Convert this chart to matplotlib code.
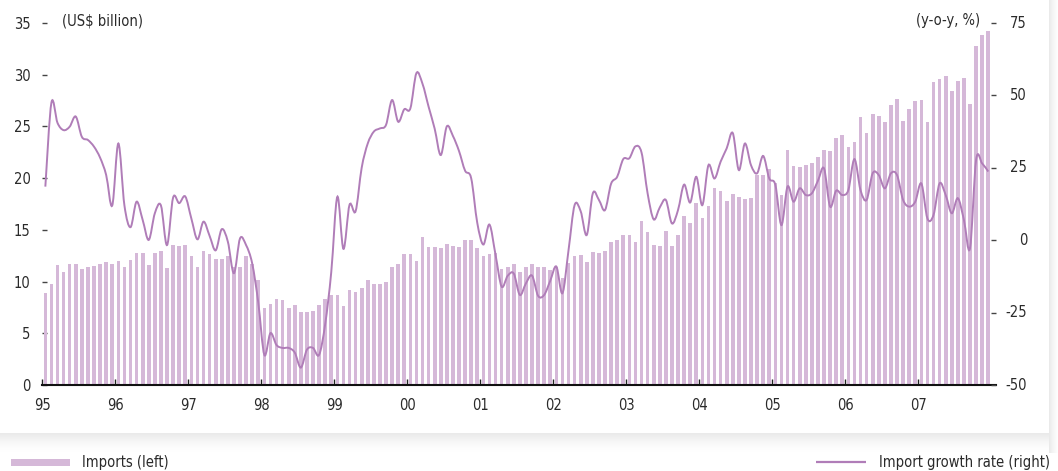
import numpy as np
import matplotlib
matplotlib.use("Agg")
import matplotlib.pyplot as plt
import matplotlib.transforms as mtransforms
from matplotlib.path import Path
from matplotlib.patches import PathPatch, Rectangle
from matplotlib import font_manager as fm
from matplotlib.ticker import FixedLocator

# ---------------- data ----------------
year_labels = ["95", "96", "97", "98", "99", "00", "01", "02", "03", "04", "05", "06", "07"]

imports_1995 = [8.9, 9.8, 11.6, 10.9, 11.7, 11.7, 11.2, 11.4, 11.5, 11.7, 11.9, 11.7]
imports_1996 = [12.0, 11.4, 12.1, 12.8, 12.8, 11.6, 12.8, 13.0, 11.3, 13.5, 13.4, 13.5]
imports_1997 = [12.5, 11.4, 13.0, 12.7, 12.2, 12.2, 12.5, 11.4, 11.4, 12.5, 11.7, 10.2]
imports_1998 = [7.4, 7.8, 8.3, 8.2, 7.4, 7.7, 7.1, 7.1, 7.2, 7.7, 8.3, 8.7]
imports_1999 = [8.7, 7.6, 9.2, 9.0, 9.4, 10.2, 9.8, 9.8, 10.0, 11.4, 11.7, 12.7]
imports_2000 = [12.7, 12.0, 14.3, 13.3, 13.3, 13.2, 13.6, 13.4, 13.3, 14.0, 14.0, 13.2]
imports_2001 = [12.5, 12.7, 12.8, 11.2, 11.4, 11.7, 10.9, 11.4, 11.7, 11.4, 11.4, 11.1]
imports_2002 = [11.4, 10.3, 11.8, 12.5, 12.6, 11.9, 12.9, 12.8, 13.0, 13.8, 14.0, 14.5]
imports_2003 = [14.5, 13.8, 15.9, 14.8, 13.5, 13.4, 14.9, 13.4, 14.5, 16.3, 15.7, 17.6]
imports_2004 = [16.1, 17.3, 19.0, 18.8, 17.8, 18.5, 18.2, 18.0, 18.1, 20.3, 20.3, 20.9]
imports_2005 = [19.5, 18.4, 22.7, 21.2, 21.1, 21.3, 21.5, 22.0, 22.7, 22.6, 23.9, 24.2]
imports_2006 = [23.0, 23.5, 25.9, 24.4, 26.2, 26.0, 25.4, 27.1, 27.7, 25.5, 26.7, 27.5]
imports_2007 = [27.6, 25.4, 29.3, 29.6, 29.9, 28.4, 29.4, 29.7, 27.2, 32.8, 33.8, 34.2]

growth_1995 = [18.5, 47.5, 40.5, 38.0, 39.2, 42.7, 35.7, 34.6, 32.3, 28.5, 22.5, 12.0]
growth_1996 = [33.4, 12.0, 4.5, 13.3, 7.0, 0.1, 9.3, 12.0, -1.7, 14.7, 12.8, 15.1]
growth_1997 = [7.5, 0.3, 6.4, 1.5, -3.5, 3.8, -0.5, -11.4, 0.6, -1.7, -8.0, -21.5]
growth_1998 = [-39.6, -32.1, -36.2, -37.2, -37.2, -38.8, -44.0, -37.8, -37.2, -39.6, -29.0, -11.0]
growth_1999 = [15.0, -3.0, 12.2, 10.0, 25.0, 33.4, 37.5, 38.6, 39.8, 48.4, 40.9, 45.2]
growth_2000 = [45.5, 57.7, 54.0, 46.1, 38.5, 29.4, 39.3, 36.0, 30.8, 24.0, 21.4, 6.0]
growth_2001 = [-1.5, 5.4, -5.0, -16.0, -12.3, -11.5, -18.9, -14.9, -12.2, -19.2, -18.9, -14.0]
growth_2002 = [-9.1, -18.3, -3.5, 12.1, 10.0, 1.8, 16.2, 13.9, 10.4, 19.5, 21.9, 28.0]
growth_2003 = [28.3, 32.4, 30.3, 16.2, 7.2, 11.3, 13.9, 5.8, 10.4, 19.2, 13.0, 21.9]
growth_2004 = [12.1, 25.9, 21.3, 27.1, 31.7, 37.0, 24.2, 33.4, 25.9, 23.1, 29.1, 21.3]
growth_2005 = [19.1, 5.2, 18.5, 13.3, 17.9, 15.6, 16.2, 20.5, 24.8, 11.6, 17.1, 15.6]
growth_2006 = [17.3, 28.0, 17.3, 13.9, 23.1, 22.5, 17.9, 23.1, 22.5, 13.9, 11.6, 13.3]
growth_2007 = [19.6, 7.5, 8.7, 19.6, 15.6, 9.3, 14.5, 7.0, -2.8, 27.7, 26.5, 23.7]

left_ticks = [0, 5, 10, 15, 20, 25, 30, 35]
right_ticks = [-50, -25, 0, 25, 50, 75]
right_tick_labels = ["-50", "-25", "0", "25", "50", "75"]

imports = np.array(imports_1995 + imports_1996 + imports_1997 + imports_1998 + imports_1999
                   + imports_2000 + imports_2001 + imports_2002 + imports_2003 + imports_2004
                   + imports_2005 + imports_2006 + imports_2007)
growth = np.array(growth_1995 + growth_1996 + growth_1997 + growth_1998 + growth_1999
                  + growth_2000 + growth_2001 + growth_2002 + growth_2003 + growth_2004
                  + growth_2005 + growth_2006 + growth_2007)
months = np.arange(len(imports))

# ---------------- style ----------------
BAR_C = "#d5b8d8"
LINE_C = "#b07db8"
TXT_C = "#2a2a2a"

names = {f.name for f in fm.fontManager.ttflist}
cond_dejavu = any(f.name == "DejaVu Sans" and "condensed" in str(f.stretch) for f in fm.fontManager.ttflist)
if "Liberation Sans Narrow" in names:
    FAMILY, STRETCH, FS = "Liberation Sans Narrow", "normal", 11.8
elif cond_dejavu:
    FAMILY, STRETCH, FS = "DejaVu Sans", "condensed", 10.5
else:
    FAMILY, STRETCH, FS = "Roboto", "normal", 10.5
plt.rcParams["font.family"] = [FAMILY, "DejaVu Sans"]
plt.rcParams["font.stretch"] = STRETCH
plt.rcParams["axes.unicode_minus"] = False

W, H = 1058, 471
fig = plt.figure(figsize=(W / 100, H / 100), dpi=100)
fig.patch.set_facecolor("white")

# background / card shadow
bg = fig.add_axes([0, 0, 1, 1], zorder=-10)
bg.set_xlim(0, W)
bg.set_ylim(H, 0)
bg.axis("off")
n = 60
a_v = np.linspace(0.55, 0.0, n) ** 1.6
grad_v = np.zeros((n, 1, 4))
grad_v[..., :3] = 0.78
grad_v[:, 0, 3] = a_v
bg.imshow(grad_v, extent=[0, 1049, 453, 433], aspect="auto", interpolation="bilinear", zorder=1)
grad_h = np.zeros((1, n, 4))
grad_h[..., :3] = 0.78
grad_h[0, :, 3] = a_v
bg.imshow(grad_h, extent=[1049, 1060, 453, 0], aspect="auto", interpolation="bilinear", zorder=1)
bg.add_patch(Rectangle((0, 0), 1049, 433, facecolor="white", edgecolor="none", zorder=2))

# legend (below the card)
bg.add_patch(Rectangle((11, 458.5), 59, 7, facecolor=BAR_C, edgecolor="none", zorder=3))
bg.text(82, 462, "Imports (left)", fontsize=FS, color=TXT_C, va="center", ha="left", zorder=3)
bg.plot([816, 866], [462, 462], color=LINE_C, lw=1.6, zorder=3, solid_capstyle="butt")
bg.text(1050, 462, "Import growth rate (right)", fontsize=FS, color=TXT_C, va="center", ha="right", zorder=3)

# main axes
L, R, T, B = 42.3, 996, 23, 385
ax = fig.add_axes([L / W, 1 - B / H, (R - L) / W, (B - T) / H])
ax.set_facecolor("none")
ax.bar(months, imports, width=0.6, color=BAR_C, edgecolor="none", zorder=2)
ax.set_xlim(-0.5, -0.5 + (R - L) / ((991.3 - 42.3) / 156))
ax.set_ylim(0, 35)
for s in ["top", "left", "right"]:
    ax.spines[s].set_visible(False)
ax.spines["bottom"].set_linewidth(1.5)
ax.spines["bottom"].set_color("#111111")
ax.spines["bottom"].set_zorder(5)

ax.xaxis.set_major_locator(FixedLocator([12 * i - 0.5 for i in range(len(year_labels))]))
ax.set_xticklabels(year_labels)
ax.tick_params(axis="x", direction="in", length=4.5, width=1, colors="#222222",
               labelcolor=TXT_C, labelsize=FS, pad=9)
ax.yaxis.set_major_locator(FixedLocator(left_ticks))
ax.tick_params(axis="y", direction="in", length=3.5, width=1, colors="#444444",
               labelcolor=TXT_C, labelsize=FS, pad=8.5)

ax2 = ax.twinx()
ax2.set_ylim(-50, 75)
for s in ax2.spines.values():
    s.set_visible(False)
ax2.yaxis.set_major_locator(FixedLocator(right_ticks))
ax2.tick_params(axis="y", direction="in", length=3.5, width=1, colors="#444444",
                labelright=False, labelleft=False)
# right-axis labels, right-aligned like the reference
rtrans = mtransforms.blended_transform_factory(ax2.transAxes, ax2.transData)
label_x = 1.0 + 31.0 / (R - L)
for v, s in zip(right_ticks, right_tick_labels):
    ax2.text(label_x, v, s, transform=rtrans, ha="right", va="center",
             fontsize=FS, color=TXT_C, clip_on=False)


def smooth_path(x, y, t=1.0 / 6.0):
    nn = len(x)
    verts = [(x[0], y[0])]
    codes = [Path.MOVETO]
    for i in range(nn - 1):
        i0 = max(i - 1, 0)
        i3 = min(i + 2, nn - 1)
        c1 = (x[i] + (x[i + 1] - x[i0]) * t, y[i] + (y[i + 1] - y[i0]) * t)
        c2 = (x[i + 1] - (x[i3] - x[i]) * t, y[i + 1] - (y[i3] - y[i]) * t)
        verts += [c1, c2, (x[i + 1], y[i + 1])]
        codes += [Path.CURVE4] * 3
    return Path(verts, codes)


ax2.add_patch(PathPatch(smooth_path(months.astype(float), growth.astype(float)),
                        fill=False, edgecolor=LINE_C, lw=1.4, zorder=3))

# unit annotations
fig.text(62 / W, 1 - 21 / H, "(US$ billion)", fontsize=FS, color=TXT_C, ha="left", va="center")
fig.text(980 / W, 1 - 21 / H, "(y-o-y, %)", fontsize=FS, color=TXT_C, ha="right", va="center")

fig.savefig("out.png", dpi=100, facecolor="white")
